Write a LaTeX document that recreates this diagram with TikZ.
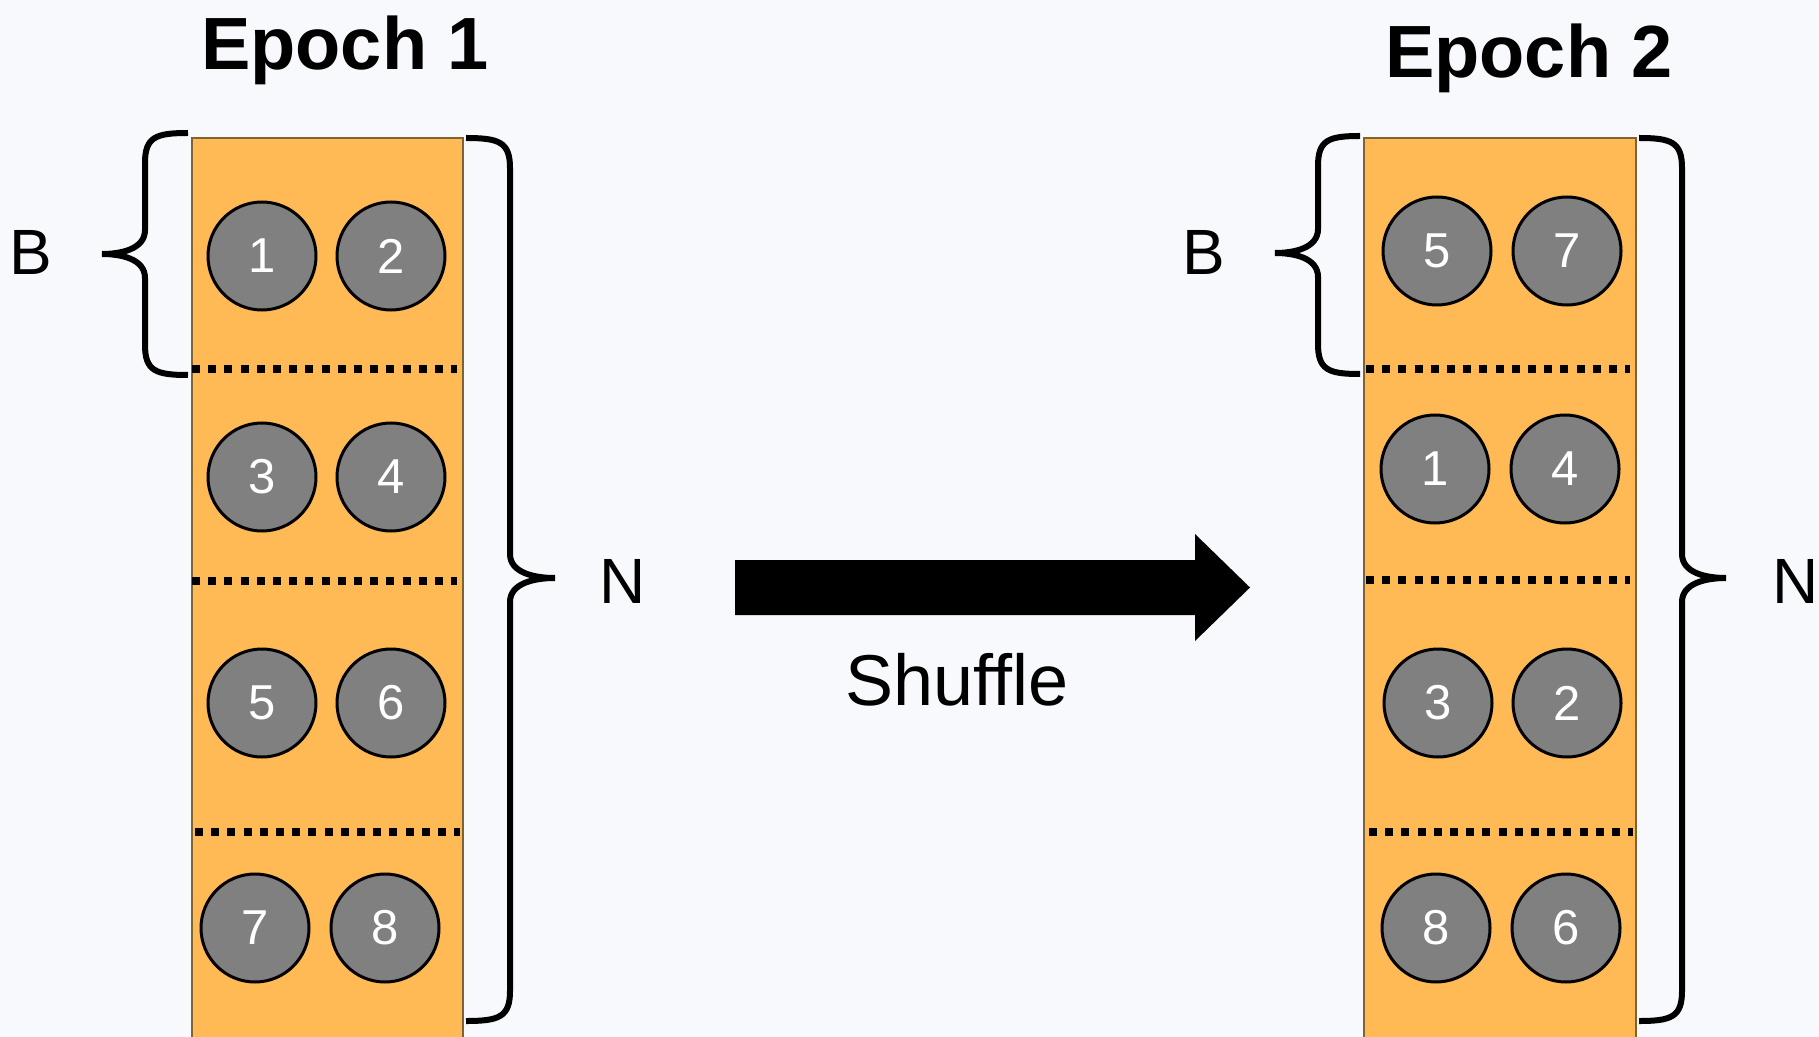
\documentclass[tikz,border=0pt]{standalone}
\usepackage{fontspec}
\setmainfont{Liberation Sans}
\definecolor{bgcol}{HTML}{F8F9FC}
\definecolor{boxfill}{HTML}{FFB955}
\definecolor{boxline}{HTML}{7F6333}
\definecolor{ballgray}{HTML}{808080}
\newcommand\bracepath[6]{% #1 end x, #2 vertical x, #3 tip x, #4 top y, #5 tip y, #6 bottom y
  \draw[bracestyle] (#1,#4) .. controls ({#2+0.25*(#1-#2)},{#4}) and (#2,{#4+4}) .. (#2,{#4+30})
    -- (#2,{#5-24}) .. controls (#2,{#5-5}) and ({#3+0.45*(#2-#3)},#5) .. (#3,#5)
    .. controls ({#3+0.45*(#2-#3)},#5) and (#2,{#5+5}) .. (#2,{#5+24})
    -- (#2,{#6-30}) .. controls (#2,{#6-4}) and ({#2+0.25*(#1-#2)},#6) .. (#1,#6);}
\begin{document}
\begin{tikzpicture}[x=0.5pt,y=-0.5pt,
  ball/.style={circle,draw=black,line width=1.5pt,fill=ballgray,minimum size=54pt,inner sep=0pt,text=white,font=\fontsize{24.5}{24.5}\selectfont},
  sepline/.style={line width=4pt,dash pattern=on 4pt off 4.1pt},
  bracestyle/.style={line width=3pt,line cap=butt},
  batchbox/.style={fill=boxfill,draw=boxline,line width=1pt},
  lbl/.style={font=\fontsize{32}{32}\selectfont,anchor=base,inner sep=0pt},
  titlestyle/.style={font=\bfseries\fontsize{37}{37}\selectfont,anchor=base,inner sep=0pt}]
\useasboundingbox (0,0) rectangle (1819,1037);
\fill[bgcol] (0,0) rectangle (1819,1037);
\clip (0,0) rectangle (1819,1037);

% titles
\node[titlestyle] (t1) at (345,70) {Epoch 1};
\node[titlestyle] (t2) at (1529,78) {Epoch 2};

% boxes
\draw[batchbox] (192,138) rectangle (463,1050);
\draw[batchbox] (1364,138) rectangle (1636,1050);

% separators
\draw[sepline] (192,369) -- (457,369);
\draw[sepline] (192,581) -- (457,581);
\draw[sepline] (195,832) -- (460,832);
\draw[sepline] (1366,369) -- (1630,369);
\draw[sepline] (1366,580) -- (1630,580);
\draw[sepline] (1369,832) -- (1633,832);

% epoch 1 balls
\node[ball] (a1) at (262,256) {1};
\node[ball] (a2) at (391,256) {2};
\node[ball] (a3) at (262,477) {3};
\node[ball] (a4) at (391,477) {4};
\node[ball] (a5) at (262,703) {5};
\node[ball] (a6) at (391,703) {6};
\node[ball] (a7) at (255,928) {7};
\node[ball] (a8) at (385,928) {8};

% epoch 2 balls
\node[ball] (b5) at (1437,251) {5};
\node[ball] (b7) at (1567,251) {7};
\node[ball] (b1) at (1435,469) {1};
\node[ball] (b4) at (1565,469) {4};
\node[ball] (b3) at (1438,703) {3};
\node[ball] (b2) at (1567,703) {2};
\node[ball] (b8) at (1436,928) {8};
\node[ball] (b6) at (1566,928) {6};

% braces
\bracepath{188}{145}{102}{133}{254}{375}
\bracepath{466}{510}{555}{138}{578}{1021}
\bracepath{1360}{1318}{1275}{136}{253}{374}
\bracepath{1639}{1682}{1726}{138}{578}{1021}

% brace labels
\node[lbl] (lb1) at (31,275) {B};
\node[lbl] (ln1) at (623,603) {N};
\node[lbl] (lb2) at (1204,275) {B};
\node[lbl] (ln2) at (1796,603) {N};

% shuffle arrow
\fill[black] (735,560) -- (1195,560) -- (1195,534) -- (1250,587.5) -- (1195,641) -- (1195,615) -- (735,615) -- cycle;
\node[font=\fontsize{36}{36}\selectfont,anchor=base,inner sep=0pt] (shuf) at (957,705) {Shuffle};
\end{tikzpicture}
\end{document}
